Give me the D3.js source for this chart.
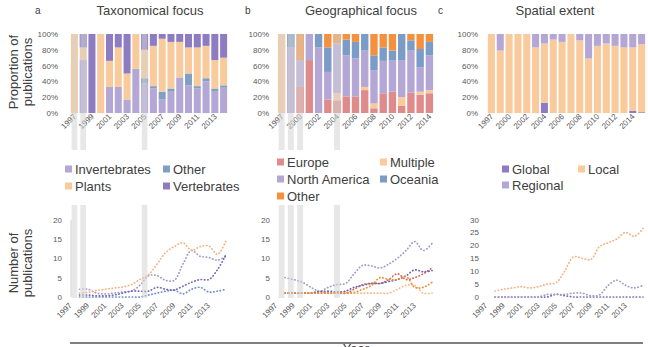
<!DOCTYPE html>
<html lang="en">
<head>
<meta charset="UTF-8">
<title>Publication focus</title>
<style>
  body { margin: 0; background: #fff; }
  svg text { font-family: "Liberation Sans", Arial, sans-serif; }
</style>
</head>
<body>
<div id="chart"></div>
<script src="https://cdnjs.cloudflare.com/ajax/libs/d3/7.8.5/d3.min.js"></script>
<script>
// ---- proportions (top row, %) ----
var taxYears = ["1997","1998","1999","2000","2001","2002","2003","2004","2005","2006","2007","2008","2009","2010","2011","2012","2013","2014"];
var taxInvertebrates = [0, 67, 0, 0, 33, 33, 17, 56, 38, 31, 17, 27, 45, 35, 31, 40, 27, 32];
var taxOther         = [0, 0, 0, 0, 0, 0, 0, 0, 6, 3, 10, 4, 0, 15, 3, 4, 4, 3];
var taxPlants        = [100, 16, 0, 100, 33, 50, 33, 44, 36, 51, 67, 59, 45, 33, 49, 41, 36, 35];
var taxVertebrates   = [0, 17, 100, 0, 34, 17, 50, 0, 20, 15, 6, 10, 10, 17, 17, 15, 33, 30];

var geoYears = ["1997","1999","2000","2001","2002","2003","2004","2005","2006","2007","2008","2009","2010","2011","2012","2013","2014"];
var geoEurope       = [0, 0, 33, 67, 0, 17, 16, 21, 21, 29, 6, 25, 27, 9, 26, 23, 25];
var geoMultiple     = [100, 0, 0, 0, 0, 0, 9, 0, 0, 4, 6, 0, 0, 11, 0, 4, 4];
var geoNorthAmerica = [0, 83, 34, 33, 83, 35, 63, 52, 48, 46, 42, 41, 40, 47, 53, 31, 44];
var geoOceania      = [0, 17, 0, 0, 17, 31, 0, 20, 21, 21, 19, 17, 12, 33, 13, 23, 17];
var geoOther        = [0, 0, 33, 0, 0, 17, 12, 7, 10, 0, 27, 17, 21, 0, 8, 19, 10];

var spaYears = ["1997","1999","2000","2001","2002","2003","2004","2005","2006","2007","2008","2009","2010","2011","2012","2013","2014","2015"];
var spaGlobal   = [0, 0, 0, 0, 0, 0, 13, 0, 0, 0, 0, 0, 0, 0, 0, 0, 3, 1];
var spaLocal    = [100, 79, 100, 100, 100, 83, 75, 93, 90, 100, 92, 69, 85, 88, 85, 83, 80, 86];
var spaRegional = [0, 21, 0, 0, 0, 17, 12, 7, 10, 0, 8, 31, 15, 12, 15, 17, 17, 13];

// ---- counts (bottom row) ----
var lineYears = ["1997","1998","1999","2000","2001","2002","2003","2004","2005","2006","2007","2008","2009","2010","2011","2012","2013","2014"];
var nInvertebrates = [2, 2, 1, 0.8, 1, 1.3, 1.5, 3, 5.5, 5.5, 4.3, 4.3, 8.5, 12, 10.5, 10.2, 9.5, 10.5];
var nOtherTax      = [0, 0, 0, 0, 0, 0, 0, 0, 0.5, 1, 1.5, 1.8, 0.8, 2, 2.5, 1.3, 1.5, 2];
var nPlants        = [1, 1.2, 1.7, 2, 2.3, 2.6, 3.2, 4.5, 5.7, 8.5, 11.5, 13, 14, 12, 13, 13.2, 11, 14.5];
var nVertebrates   = [0.5, 0.5, 0.3, 0.3, 0.5, 1, 1.5, 1.5, 1.5, 2.5, 2, 1.8, 2.8, 3.8, 4.5, 4.5, 7, 11];

var nEurope       = [1, 1, 1, 1, 1.5, 1, 1, 1, 2, 3.2, 3.5, 3.5, 4.5, 6, 4.5, 5, 6, 7.5];
var nMultiple     = [1, 1, 1, 1, 1, 1, 1, 1, 1, 1, 1, 1, 1, 2, 3, 3, 1, 1];
var nNorthAmerica = [5, 4.5, 3.8, 2.5, 1.5, 2.5, 3.2, 3.5, 6, 8.2, 8, 7.5, 8.5, 10, 12, 14.3, 12, 13.8];
var nOceania      = [1, 1, 1, 1, 1.3, 1.5, 1.3, 1.5, 2.5, 3, 3.5, 3.5, 4, 4.5, 5.5, 7, 6.5, 6.8];
var nOtherGeo     = [1, 1, 1, 1, 1, 1, 1, 1, 1.2, 2, 3, 5, 4.5, 4.5, 5.3, 2.5, 2.5, 3.8];

var nGlobal   = [0, 0, 0, 0, 0, 0, 0, 1, 0.5, 0, 0, 0, 0, 0, 0, 0, 0, 0];
var nLocal    = [2.3, 3, 3.5, 4, 3.5, 4, 5, 5.5, 10, 15.5, 15, 14.5, 19.5, 21, 22.5, 25, 23.5, 26.5];
var nRegional = [0, 0, 0, 0, 0, 0, 1, 1, 1, 1.5, 1.5, 0.5, 0.8, 4.5, 6.5, 4.5, 3.5, 4.5];

// years greyed out
var highlightTax = ["1997", "1998", "2005"];
var highlightGeo = ["1997", "1999", "2000", "2004"];

var lavender = "#b4a7d6", peach = "#f9cb9c", purple = "#8e7cc3", steel = "#7f9fc4";

var svg = d3.select("#chart").append("svg")
  .attr("width", 648)
  .attr("height", 347);

var yTop = d3.scaleLinear().domain([0, 100]).range([113, 34]);
var tickGrey = "#595959";

function drawBars(cats, keys, values, colors, x0, x1, axisX) {
  var rows = cats.map(function(c, i) {
    var r = {year: c};
    keys.forEach(function(k, j) { r[k] = values[j][i]; });
    return r;
  });
  var x = d3.scaleBand().domain(cats).range([x0, x1]).paddingInner(0.2).paddingOuter(0.1);
  var g = svg.append("g");

  g.selectAll("g.layer")
    .data(d3.stack().keys(keys)(rows))
    .enter().append("g")
      .attr("fill", function(d, i) { return colors[i]; })
    .selectAll("rect")
    .data(function(d) { return d; })
    .enter().append("rect")
      .attr("x", function(d) { return x(d.data.year); })
      .attr("y", function(d) { return yTop(d[1]); })
      .attr("width", x.bandwidth())
      .attr("height", function(d) { return yTop(d[0]) - yTop(d[1]); });

  var ax = g.append("g")
    .attr("transform", "translate(" + axisX + ",0)")
    .call(d3.axisLeft(yTop).tickValues([0, 20, 40, 60, 80, 100])
      .tickFormat(function(d) { return d + "%"; }).tickSize(0).tickPadding(0));
  ax.select(".domain").remove();
  ax.selectAll("text").attr("fill", tickGrey).style("font-size", "8px");

  g.selectAll("text.xl")
    .data(cats.filter(function(c, i) { return i % 2 === 0; }))
    .enter().append("text")
      .attr("class", "xl")
      .attr("transform", function(d) { return "translate(" + (x(d) + x.bandwidth() / 2 + 2.5) + ",117) rotate(-45)"; })
      .attr("text-anchor", "end")
      .attr("fill", tickGrey)
      .style("font-size", "8px")
      .text(function(d) { return d; });
  return x;
}

function drawLines(values, colors, yMax, x0, x1, axisX) {
  var x = d3.scalePoint().domain(lineYears).range([x0, x1]);
  var y = d3.scaleLinear().domain([0, yMax]).range([297, 219.5]);
  var g = svg.append("g");

  var line = d3.line()
    .x(function(d, i) { return x(lineYears[i]); })
    .y(function(d) { return y(d); })
    .curve(d3.curveCatmullRom.alpha(0.5));

  values.forEach(function(v, i) {
    g.append("path")
      .attr("d", line(v))
      .attr("fill", "none")
      .attr("stroke", colors[i])
      .attr("stroke-width", 1.7)
      .attr("stroke-linecap", "round")
      .attr("stroke-dasharray", "0.4,2.9");
  });

  var ax = g.append("g")
    .attr("transform", "translate(" + axisX + ",0)")
    .call(d3.axisLeft(y).tickValues(d3.range(0, yMax + 1, 5)).tickSize(0).tickPadding(0));
  ax.select(".domain").remove();
  ax.selectAll("text").attr("fill", tickGrey).style("font-size", "8px");

  g.selectAll("text.xl")
    .data(lineYears.filter(function(c, i) { return i % 2 === 0; }))
    .enter().append("text")
      .attr("transform", function(d) { return "translate(" + (x(d) - 7) + ",306) rotate(-45)"; })
      .attr("text-anchor", "end")
      .attr("fill", tickGrey)
      .style("font-size", "8px")
      .text(function(d) { return d; });
  return x;
}

function drawLegend(items, colors, cols, rows) {
  var g = svg.append("g");
  items.forEach(function(name, i) {
    var cx = cols[i % 2], cy = rows[Math.floor(i / 2)];
    g.append("rect").attr("x", cx).attr("y", cy - 3.5).attr("width", 7).attr("height", 7).attr("fill", colors[i]);
    g.append("text").attr("x", cx + 10).attr("y", cy + 4.5)
      .attr("fill", "#404040").style("font-size", "13px").text(name);
  });
}

function drawBands(x, years) {
  years.forEach(function(yr) {
    var w = x.bandwidth() * 0.8, bx = x(yr) + x.bandwidth() * 0.1;
    [[34, 150], [205, 298]].forEach(function(s) {
      svg.append("rect").attr("x", bx).attr("y", s[0]).attr("width", w).attr("height", s[1] - s[0])
        .attr("fill", "#d4d4d4").attr("opacity", 0.55);
    });
  });
}

// panel a
var xa = drawBars(taxYears, ["inv", "oth", "pla", "ver"],
  [taxInvertebrates, taxOther, taxPlants, taxVertebrates],
  [lavender, steel, peach, purple], 70, 228, 58);
drawLegend(["Invertebrates", "Other", "Plants", "Vertebrates"], [lavender, steel, peach, purple], [65, 163], [169, 186]);
svg.append("line").attr("x1", 71).attr("x2", 71).attr("y1", 220).attr("y2", 297).attr("stroke", "#d0d0d0");
drawLines([nInvertebrates, nOtherTax, nPlants, nVertebrates],
  ["#a29dc4", "#6a8fcc", "#f4b183", "#7268b8"], 20, 79.5, 226, 62);
drawBands(xa, highlightTax);

// panel b
var xb = drawBars(geoYears, ["eu", "mu", "na", "oc", "ot"],
  [geoEurope, geoMultiple, geoNorthAmerica, geoOceania, geoOther],
  ["#e08b8b", peach, lavender, "#7a9cc6", "#f4913f"], 277, 434, 269);
drawLegend(["Europe", "Multiple", "North America", "Oceania", "Other"],
  ["#e08b8b", peach, lavender, "#7a9cc6", "#f4913f"], [277, 380], [162, 179, 196]);
drawLines([nEurope, nMultiple, nNorthAmerica, nOceania, nOtherGeo],
  ["#d9625e", "#f7b98a", "#a29dc4", "#6561ad", "#f08a2c"], 20, 285, 432, 270);
drawBands(xb, highlightGeo);

// panel c
drawBars(spaYears, ["gl", "lo", "re"], [spaGlobal, spaLocal, spaRegional],
  [purple, peach, lavender], 487, 646, 478);
drawLegend(["Global", "Local", "Regional"], [purple, peach, lavender], [502, 578], [169, 185]);
drawLines([nGlobal, nRegional, nLocal], ["#7a6dbb", "#a29dc4", "#f4b183"], 30, 495, 643, 479);

// titles
[["a", 35, "Taxonomical focus", 150], ["b", 245, "Geographical focus", 361], ["c", 438, "Spatial extent", 555]].forEach(function(t) {
  svg.append("text").attr("x", t[1]).attr("y", 14).attr("fill", "#404040").style("font-size", "10px").text(t[0]);
  svg.append("text").attr("x", t[3]).attr("y", 15).attr("text-anchor", "middle").attr("fill", "#404040")
    .style("font-size", "13px").text(t[2]);
});

// axis titles
function vTitle(lines, cy) {
  lines.forEach(function(s, i) {
    svg.append("text")
      .attr("transform", "translate(" + (18 + i * 14) + "," + cy + ") rotate(-90)")
      .attr("text-anchor", "middle").attr("fill", "#404040").style("font-size", "13px").text(s);
  });
}
vTitle(["Proportion of", "publications"], 72);
vTitle(["Number of", "publications"], 263);

// shared x axis line, the "Year" label sits at the bottom edge as in the original
svg.append("line").attr("x1", 70).attr("x2", 643).attr("y1", 343).attr("y2", 343)
  .attr("stroke", "#808080").attr("stroke-width", 2);
svg.append("text").attr("x", 356).attr("y", 353).attr("text-anchor", "middle")
  .attr("fill", "#404040").style("font-size", "13px").text("Year");
</script>
</body>
</html>
